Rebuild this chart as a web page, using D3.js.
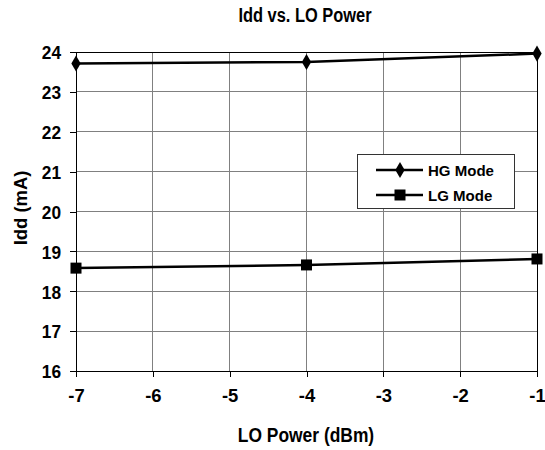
<!DOCTYPE html>
<html><head><meta charset="utf-8">
<script src="https://cdn.jsdelivr.net/npm/d3@7"></script>
<style>
body{margin:0;background:#fff;}
text{font-family:"Liberation Sans",Arial,sans-serif;font-weight:bold;fill:#000;}
</style></head>
<body><svg id="c" width="545" height="450"></svg>
<script>
const xValues = [-7, -4, -1];
const hgMode = [23.71, 23.75, 23.96];
const lgMode = [18.58, 18.66, 18.81];
const seriesNames = ["HG Mode", "LG Mode"];
const xTicks = [-7, -6, -5, -4, -3, -2, -1];
const yTicks = [16, 17, 18, 19, 20, 21, 22, 23, 24];
const titleText = "Idd vs. LO Power";
const xTitle = "LO Power (dBm)";
const yTitle = "Idd (mA)";

const svg = d3.select("#c");
const L = 76, R = 537, T = 52, B = 371;
const x = d3.scaleLinear().domain([-7, -1]).range([L, R]);
const y = d3.scaleLinear().domain([16, 24]).range([B, T]);

function squeeze(sel, k) {
  sel.each(function () {
    const w = this.getComputedTextLength();
    d3.select(this).attr("textLength", w * k).attr("lengthAdjust", "spacingAndGlyphs");
  });
}

// gridlines
svg.append("g").selectAll("line").data(yTicks).join("line")
  .attr("x1", L).attr("x2", R).attr("y1", d => y(d)).attr("y2", d => y(d))
  .attr("stroke", "#808080").attr("stroke-width", 1).attr("shape-rendering","crispEdges");
svg.append("g").selectAll("line").data(xTicks).join("line")
  .attr("x1", d => x(d)).attr("x2", d => x(d)).attr("y1", T).attr("y2", B)
  .attr("stroke", "#808080").attr("stroke-width", 1).attr("shape-rendering","crispEdges");
svg.append("rect").attr("x", L).attr("y", T).attr("width", R - L).attr("height", B - T)
  .attr("fill", "none").attr("stroke", "#000").attr("stroke-width", 1).attr("shape-rendering","crispEdges");

// axes
const xAxis = d3.axisBottom(x).tickValues(xTicks).tickSize(6).tickPadding(12).tickFormat(d => String(d));
const gx = svg.append("g").attr("transform", `translate(0,${B})`).call(xAxis);
const yAxis = d3.axisLeft(y).tickValues(yTicks).tickSize(6).tickPadding(9).tickFormat(d => String(d));
const gy = svg.append("g").attr("transform", `translate(${L},0)`).call(yAxis);
[gx, gy].forEach(g => {
  g.attr("font-family", null).attr("font-size", null);
  g.select(".domain").attr("stroke", "#000").attr("shape-rendering","crispEdges");
  g.selectAll(".tick line").attr("stroke", "#000").attr("shape-rendering","crispEdges");
  g.selectAll(".tick text").attr("font-size", 19);
});
gy.selectAll(".tick text").attr("dy", "0.36em");
gx.selectAll(".tick text").attr("dy", "0.71em");
squeeze(gy.selectAll(".tick text"), 0.91);
squeeze(gx.selectAll(".tick text"), 0.97);

// lines
const line = d3.line().x((d, i) => x(xValues[i])).y(d => y(d));
svg.append("path").datum(hgMode).attr("d", line).attr("fill", "none").attr("stroke", "#000").attr("stroke-width", 2.5);
svg.append("path").datum(lgMode).attr("d", line).attr("fill", "none").attr("stroke", "#000").attr("stroke-width", 2.5);
svg.append("g").selectAll("path").data(hgMode).join("path")
  .attr("transform", (d, i) => `translate(${x(xValues[i])},${y(d)})`)
  .attr("d", d3.symbol().type(d3.symbolDiamond).size(75)).attr("fill", "#000");
svg.append("g").selectAll("rect").data(lgMode).join("rect")
  .attr("x", (d, i) => x(xValues[i]) - 5.5).attr("y", d => y(d) - 5.5)
  .attr("width", 11).attr("height", 11).attr("fill", "#000");

// titles
squeeze(svg.append("text").attr("x", 305).attr("y", 22).attr("text-anchor", "middle").attr("font-size", 20).text(titleText), 0.82);
squeeze(svg.append("text").attr("x", 306).attr("y", 442).attr("text-anchor", "middle").attr("font-size", 20).text(xTitle), 0.87);
squeeze(svg.append("text").attr("transform", "translate(27,208) rotate(-90)").attr("text-anchor", "middle").attr("font-size", 19).text(yTitle), 0.97);

// legend
const lg = svg.append("g");
lg.append("rect").attr("x", 357.5).attr("y", 154.5).attr("width", 157).attr("height", 54)
  .attr("fill", "#fff").attr("stroke", "#333").attr("stroke-width", 1);
seriesNames.forEach((n, i) => {
  const cy = 170 + i * 25;
  lg.append("line").attr("x1", 376).attr("x2", 423).attr("y1", cy).attr("y2", cy).attr("stroke", "#000").attr("stroke-width", 2.5);
  if (i === 0) lg.append("path").attr("transform", `translate(400,${cy})`).attr("d", d3.symbol().type(d3.symbolDiamond).size(75)).attr("fill", "#000");
  else lg.append("rect").attr("x", 394.5).attr("y", cy - 5.5).attr("width", 11).attr("height", 11).attr("fill", "#000");
  const t = lg.append("text").attr("x", 428).attr("y", cy).attr("dy", "0.36em").attr("font-size", 15.5).text(n);
  squeeze(t, 0.97);
});
</script></body></html>
